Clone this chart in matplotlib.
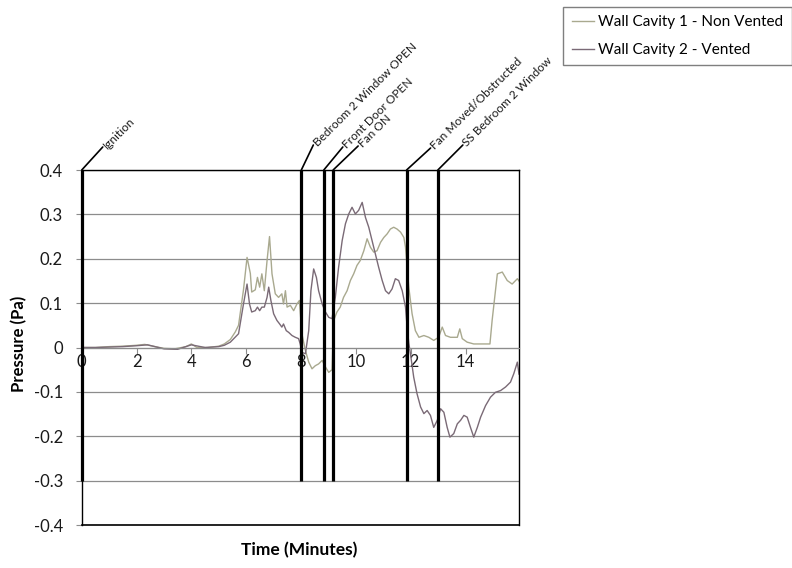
import matplotlib
matplotlib.use("Agg")
import matplotlib.pyplot as plt

plt.rcParams['font.family'] = ['Lato', 'DejaVu Sans']

# Wall Cavity 1 - Non Vented  (time in minutes, pressure in Pa)
t1 = [0, 0.5, 1.0, 1.5, 2.0, 2.3, 2.6, 3.0, 3.4, 3.8, 4.0, 4.2, 4.6, 5.0, 5.2,
      5.42, 5.6, 5.72, 5.9, 6.03, 6.15, 6.2, 6.33, 6.41, 6.49, 6.57, 6.66, 6.76,
      6.85, 6.94, 7.06, 7.18, 7.3, 7.36, 7.43, 7.49, 7.61, 7.73, 7.85, 7.94,
      8.03, 8.16, 8.28, 8.4, 8.52, 8.64, 8.77, 8.89, 9.01, 9.13, 9.19, 9.31,
      9.43, 9.55, 9.68, 9.8, 9.92, 10.04, 10.16, 10.29, 10.41, 10.53, 10.65,
      10.77, 10.9, 11.02, 11.14, 11.26, 11.38, 11.5, 11.63, 11.75, 11.81,
      11.93, 12.05, 12.17, 12.3, 12.48, 12.66, 12.84, 13.02, 13.15, 13.27,
      13.45, 13.7, 13.79, 13.88, 14.06, 14.3, 14.61, 14.89, 14.97, 15.16,
      15.34, 15.52, 15.7, 15.89, 15.95]
p1 = [0, 0.0, 0.002, 0.003, 0.005, 0.007, 0.003, -0.002, -0.003, 0.002, 0.008,
      0.0, 0.0, 0.003, 0.008, 0.018, 0.035, 0.05, 0.13, 0.203, 0.167, 0.125,
      0.13, 0.158, 0.136, 0.166, 0.128, 0.196, 0.25, 0.166, 0.121, 0.113,
      0.121, 0.098, 0.128, 0.091, 0.095, 0.083, 0.098, 0.106, 0.031, -0.007,
      -0.033, -0.048, -0.041, -0.037, -0.029, -0.044, -0.056, -0.05, 0.061,
      0.08, 0.091, 0.113, 0.128, 0.151, 0.166, 0.185, 0.196, 0.218, 0.245,
      0.226, 0.215, 0.218, 0.237, 0.248, 0.256, 0.267, 0.271, 0.267, 0.26,
      0.248, 0.226, 0.136, 0.076, 0.038, 0.023, 0.027, 0.023, 0.016, 0.023,
      0.046, 0.027, 0.023, 0.023, 0.042, 0.02, 0.012, 0.008, 0.008, 0.008,
      0.061, 0.166, 0.17, 0.151, 0.143, 0.155, 0.15]

# Wall Cavity 2 - Vented
t2 = [0, 0.5, 1.0, 1.5, 2.0, 2.4, 3.0, 3.5, 4.0, 4.5, 5.0, 5.2, 5.42, 5.72,
      5.9, 6.03, 6.12, 6.2, 6.33, 6.41, 6.49, 6.57, 6.66, 6.76, 6.82, 6.9,
      7.0, 7.12, 7.22, 7.3, 7.36, 7.46, 7.55, 7.67, 7.79, 7.91, 7.97, 8.03,
      8.16, 8.28, 8.36, 8.46, 8.56, 8.64, 8.77, 8.89, 9.01, 9.13, 9.25, 9.37,
      9.5, 9.62, 9.74, 9.86, 9.98, 10.1, 10.23, 10.35, 10.47, 10.59, 10.71,
      10.83, 10.96, 11.08, 11.2, 11.32, 11.44, 11.56, 11.69, 11.81, 11.87,
      11.93, 11.99, 12.11, 12.23, 12.36, 12.48, 12.6, 12.72, 12.84, 12.97,
      13.09, 13.21, 13.33, 13.43, 13.57, 13.7, 13.82, 13.94, 14.06, 14.18,
      14.3, 14.43, 14.55, 14.73, 14.91, 15.09, 15.28, 15.46, 15.64, 15.76,
      15.89, 15.95]
p2 = [0, 0.0, 0.001, 0.002, 0.004, 0.006, -0.003, -0.004, 0.006, 0.0, 0.002,
      0.005, 0.012, 0.031, 0.098, 0.143, 0.098, 0.08, 0.083, 0.091, 0.083,
      0.091, 0.091, 0.113, 0.136, 0.106, 0.076, 0.061, 0.053, 0.046, 0.053,
      0.038, 0.034, 0.027, 0.023, 0.02, 0.008, -0.011, -0.014, 0.038, 0.128,
      0.177, 0.158, 0.128, 0.098, 0.08, 0.068, 0.065, 0.113, 0.181, 0.241,
      0.279, 0.301, 0.316, 0.301, 0.309, 0.327, 0.293, 0.271, 0.241, 0.211,
      0.181, 0.151, 0.128, 0.121, 0.132, 0.155, 0.151, 0.128, 0.091, 0.046,
      0.01, -0.014, -0.067, -0.104, -0.134, -0.149, -0.142, -0.153, -0.18,
      -0.164, -0.138, -0.146, -0.18, -0.202, -0.194, -0.172, -0.164, -0.153,
      -0.157, -0.18, -0.202, -0.18, -0.157, -0.131, -0.112, -0.101, -0.097,
      -0.089, -0.078, -0.059, -0.033, -0.06]

events = ["Ignition", "Bedroom 2 Window OPEN", "Front Door OPEN", "Fan ON",
          "Fan Moved/Obstructed", "SS Bedroom 2 Window"]
event_times = [0, 8.01, 8.83, 9.17, 11.85, 12.99]

x_ticks = [0, 2, 4, 6, 8, 10, 12, 14]
y_ticks = [-0.4, -0.3, -0.2, -0.1, 0, 0.1, 0.2, 0.3, 0.4]
y_labels = ["-0.4", "-0.3", "-0.2", "-0.1", "0", "0.1", "0.2", "0.3", "0.4"]

# leader line offsets in pixels (dx, dy) for each event label
leader_offsets = [(21, 23), (12, 25), (19, 23), (25, 24), (24, 22), (25, 25)]

fig = plt.figure(figsize=(7.92, 5.68), dpi=100)
ax = fig.add_axes([0.1032, 0.0757, 0.5521, 0.625])

l1, = ax.plot(t1, p1, color="#a9a98f", lw=1)
l2, = ax.plot(t2, p2, color="#7a6a76", lw=1)

ax.set_xlim(0, 15.95)
ax.set_ylim(-0.4, 0.4)
ax.set_xticks(x_ticks)
ax.set_yticks(y_ticks)
ax.set_yticklabels(y_labels)
ax.yaxis.grid(True, color="#8c8c8c", lw=0.9)
ax.set_axisbelow(True)

# x axis crosses at zero like the spreadsheet chart
ax.spines["bottom"].set_position(("data", 0))
ax.spines["bottom"].set_color("#8c8c8c")
for s in ["left", "top", "right"]:
    ax.spines[s].set_color("black")
    ax.spines[s].set_linewidth(1)
ax.axhline(-0.4, color="black", lw=1.2, clip_on=False, zorder=5)
ax.tick_params(axis="x", direction="out", length=4, color="#8c8c8c", pad=1,
               labelsize=12, labelcolor="#1a1a1a")
ax.tick_params(axis="y", direction="out", length=4.5, color="#8c8c8c", pad=9,
               labelsize=12, labelcolor="#1a1a1a")

# event markers
ax.vlines(event_times, -0.3, 0.4, color="black", lw=2.3, clip_on=False, zorder=4)
for name, t, (dx, dy) in zip(events, event_times, leader_offsets):
    ax.annotate("", xy=(t, 0.4), xytext=(dx, dy), textcoords="offset pixels",
                annotation_clip=False,
                arrowprops=dict(arrowstyle="-", color="black", lw=1.2,
                                shrinkA=0, shrinkB=0))
    ax.annotate(name, xy=(t, 0.4), xytext=(dx + 2, dy),
                textcoords="offset pixels", rotation=45,
                rotation_mode="anchor", ha="left", va="center",
                fontsize=8.6, color="#1a1a1a", annotation_clip=False)

fig.text(0.024, 0.394, "Pressure (Pa)", rotation=90, ha="center", va="center",
         fontsize=12, fontweight="bold")
fig.text(0.378, 0.032, "Time (Minutes)", ha="center", va="center",
         fontsize=12.5, fontweight="bold")

fig.legend([l1, l2], ["Wall Cavity 1 - Non Vented", "Wall Cavity 2 - Vented"],
           loc="upper left", bbox_to_anchor=(0.711, 0.988), fontsize=11,
           frameon=True, fancybox=False, edgecolor="#7f7f7f", framealpha=1,
           handlelength=1.5, handletextpad=0.25, borderpad=0.55,
           borderaxespad=0, labelspacing=0.9, handleheight=0.7)

fig.savefig("out.png", dpi=100)
